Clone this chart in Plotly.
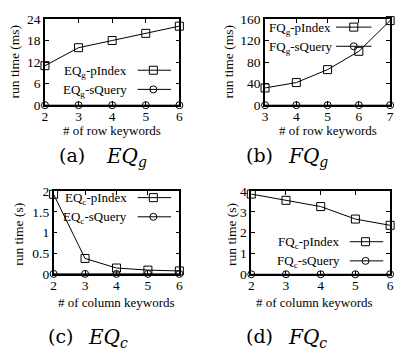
import plotly.graph_objects as go

W, H = 401, 357

# ---------------- data ----------------
x_a = [2, 3, 4, 5, 6]
a_pindex = [11, 16, 18, 20, 22]
a_squery = [0, 0, 0, 0, 0]

x_b = [3, 4, 5, 6, 7]
b_pindex = [32, 42, 66, 100, 157]
b_squery = [0, 0, 0, 0, 0]

x_c = [2, 3, 4, 5, 6]
c_pindex = [1.92, 0.38, 0.15, 0.10, 0.08]
c_squery = [0.01, 0.01, 0.01, 0.01, 0.01]

x_d = [2, 3, 4, 5, 6]
d_pindex = [3.85, 3.55, 3.25, 2.65, 2.35]
d_squery = [0, 0, 0, 0, 0]

FONT = "Liberation Serif"
CAPFONT = "DejaVu Serif"

def px_x(p):
    return p / W

def px_y(p):
    return 1 - p / H

# panel boxes in pixels: (left, right, top, bottom)
panels = [
    dict(box=(42.7, 179.5, 12.5, 102.5), xr=[2, 6], yr=[0, 24], dt=6, xs=x_a,
         p=a_pindex, s=a_squery, name="EQ", sub="g", unit="ms",
         ylab=(12, 57), xlab=(111, 129), xtitle="# of row keywords",
         cap=(70, 126, 155, "(a)", "EQ", "g"),
         leg=dict(y1=66, y2=86, tx=128, align="right", l0=137, l1=171, m=153)),
    dict(box=(266.7, 394, 12.5, 102.5), xr=[3, 7], yr=[0, 160], dt=40, xs=x_b,
         p=b_pindex, s=b_squery, name="FQ", sub="g", unit="ms",
         ylab=(230, 57), xlab=(331, 129), xtitle="# of row keywords",
         cap=(261, 310, 155, "(b)", "FQ", "g"),
         leg=dict(y1=21, y2=41, tx=269, align="left", l0=339, l1=375, m=357)),
    dict(box=(51.5, 179.5, 192, 279), xr=[2, 6], yr=[0, 2], dt=0.5, xs=x_c,
         p=c_pindex, s=c_squery, name="EQ", sub="c", unit="s",
         ylab=(15, 237), xlab=(116, 308), xtitle="# of column keywords",
         cap=(59, 107, 343, "(c)", "EQ", "c"),
         leg=dict(y1=199, y2=219, tx=128, align="right", l0=137, l1=171, m=153)),
    dict(box=(252.7, 394, 192, 279), xr=[2, 6], yr=[0, 4], dt=1, xs=x_d,
         p=d_pindex, s=d_squery, name="FQ", sub="c", unit="s",
         ylab=(232, 237), xlab=(317, 308), xtitle="# of column keywords",
         cap=(261, 310, 343, "(d)", "FQ", "c"),
         leg=dict(y1=245, y2=265, tx=345, align="right", l0=353, l1=387, m=369)),
]

fig = go.Figure()
annotations = []
layout = {}

line_style = dict(color="black", width=1)
sq_marker = dict(symbol="square-open", size=8, color="black", line=dict(width=1, color="black"))
ci_marker = dict(symbol="circle-open", size=7, color="black", line=dict(width=1, color="black"))

for i, pn in enumerate(panels, start=1):
    l, r, t, b = pn["box"]
    xa = "xaxis" if i == 1 else f"xaxis{i}"
    ya = "yaxis" if i == 1 else f"yaxis{i}"
    xref = "x" if i == 1 else f"x{i}"
    yref = "y" if i == 1 else f"y{i}"
    layout[xa] = dict(domain=[px_x(l), px_x(r)], range=pn["xr"], anchor=yref,
                      dtick=1, ticks="inside", ticklen=4, tickwidth=1, tickcolor="black",
                      showline=True, linecolor="black", linewidth=1.5, mirror="all",
                      showgrid=False, zeroline=False, ticklabelstandoff=-2,
                      tickfont=dict(family=FONT, size=13.5, color="black"))
    layout[ya] = dict(domain=[px_y(b), px_y(t)], range=pn["yr"], anchor=xref,
                      dtick=pn["dt"], ticks="inside", ticklen=4, tickwidth=1, tickcolor="black",
                      showline=True, linecolor="black", linewidth=1.5, mirror="all",
                      showgrid=False, zeroline=False,
                      tickfont=dict(family=FONT, size=13.5, color="black"))
    fig.add_trace(go.Scatter(x=pn["xs"], y=pn["p"], mode="lines+markers", line=line_style,
                             marker=sq_marker, xaxis=xref, yaxis=yref, cliponaxis=False,
                             showlegend=False))
    fig.add_trace(go.Scatter(x=pn["xs"], y=pn["s"], mode="lines+markers", line=line_style,
                             marker=ci_marker, xaxis=xref, yaxis=yref, cliponaxis=False,
                             showlegend=False))
    # axis titles
    yx, yy = pn["ylab"]
    annotations.append(dict(x=px_x(yx), y=px_y(yy), xref="paper", yref="paper",
                            text=f"run time ({pn['unit']})", textangle=-90, showarrow=False,
                            font=dict(family=FONT, size=13.5, color="black"),
                            xanchor="center", yanchor="middle"))
    tx, ty = pn["xlab"]
    annotations.append(dict(x=px_x(tx), y=px_y(ty), xref="paper", yref="paper",
                            text=pn["xtitle"], showarrow=False,
                            font=dict(family=FONT, size=13, color="black"),
                            xanchor="center", yanchor="middle"))
    # caption: "(x)" and the math-italic name placed separately
    c1, c2, cy, lab, nm, sb = pn["cap"]
    annotations.append(dict(x=px_x(c1), y=px_y(cy), xref="paper", yref="paper",
                            text=lab, showarrow=False,
                            font=dict(family=CAPFONT, size=19, color="black"),
                            xanchor="center", yanchor="middle"))
    annotations.append(dict(x=px_x(c2), y=px_y(cy + 2), xref="paper", yref="paper",
                            text=f"<i>{nm}</i><sub><i>{sb}</i></sub>", showarrow=False,
                            font=dict(family=CAPFONT, size=20, color="black"),
                            xanchor="center", yanchor="middle"))
    # legend (text left, sample right)
    lg = pn["leg"]
    for yy_, suffix, mk in [(lg["y1"], "pIndex", sq_marker), (lg["y2"], "sQuery", ci_marker)]:
        annotations.append(dict(x=px_x(lg["tx"]), y=px_y(yy_ + 1), xref="paper", yref="paper",
                                text=f"{pn['name']}<sub>{pn['sub']}</sub>-{suffix}", showarrow=False,
                                font=dict(family=FONT, size=13, color="black"),
                                xanchor=lg["align"], yanchor="middle"))
        fig.add_trace(go.Scatter(x=[lg["l0"], lg["l1"]], y=[yy_, yy_], mode="lines",
                                 line=line_style, xaxis="x9", yaxis="y9", showlegend=False,
                                 hoverinfo="skip"))
        fig.add_trace(go.Scatter(x=[lg["m"]], y=[yy_], mode="markers", marker=mk,
                                 xaxis="x9", yaxis="y9", showlegend=False, hoverinfo="skip",
                                 cliponaxis=False))

layout["xaxis9"] = dict(domain=[0, 1], range=[0, W], visible=False, anchor="y9")
layout["yaxis9"] = dict(domain=[0, 1], range=[H, 0], visible=False, anchor="x9")

fig.update_layout(**layout)
fig.update_layout(width=W, height=H, margin=dict(l=0, r=0, t=0, b=0),
                  paper_bgcolor="white", plot_bgcolor="rgba(0,0,0,0)",
                  annotations=annotations, showlegend=False)

fig.write_html("out.html")
